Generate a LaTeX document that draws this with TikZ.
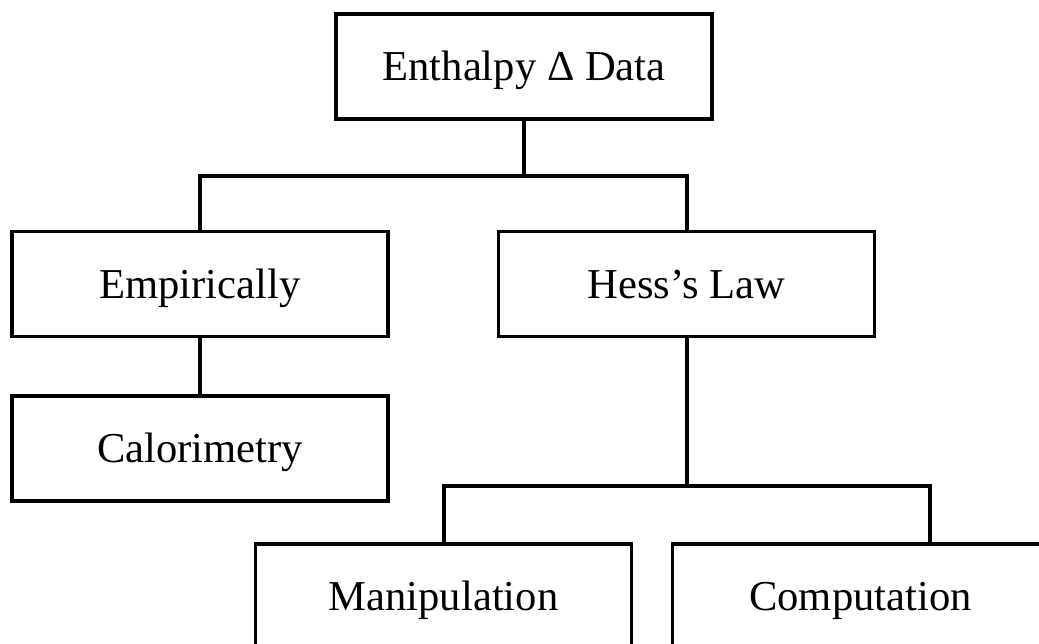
\documentclass[tikz,border=0pt]{standalone}
\usepackage{fontspec}
\setmainfont{Liberation Serif}
\begin{document}
\begin{tikzpicture}[x=0.5pt, y=-0.5pt,
		every node/.style = {shape=rectangle, draw, line width=1.8pt, align=center, inner sep=0pt,
			minimum width=188pt, minimum height=52.5pt, text height=14.1pt, text depth=0pt,
			font=\fontsize{21.3}{25}\selectfont},
		link/.style = {line width=2pt}]
		\useasboundingbox (0,0) rectangle (1039,643);
		\clip (0,0) rectangle (1039,643);
		\node (data) at (524,66.5) {Enthalpy Δ Data};
		\node (emp) at (200,284) {Empirically};
		\node (hess) at (686.5,284) {Hess’s Law};
		\node (calor) at (200,448.5) {Calorimetry};
		\node (manip) at (443.5,596.5) {Manipulation};
		\node (comp) at (860.5,596.5) {Computation};
		% connectors
		\draw[link] (data.south) -- ++(0,55) -| (emp.north);
		\draw[link] (data.south) -- ++(0,55) -| (hess.north);
		\draw[link] (emp.south) -- (calor.north);
		\draw[link] (hess.south) -- ++(0,148) -| (manip.north);
		\draw[link] (hess.south) -- ++(0,148) -| ([xshift=34.75pt]comp.north);
	\end{tikzpicture}
\end{document}
